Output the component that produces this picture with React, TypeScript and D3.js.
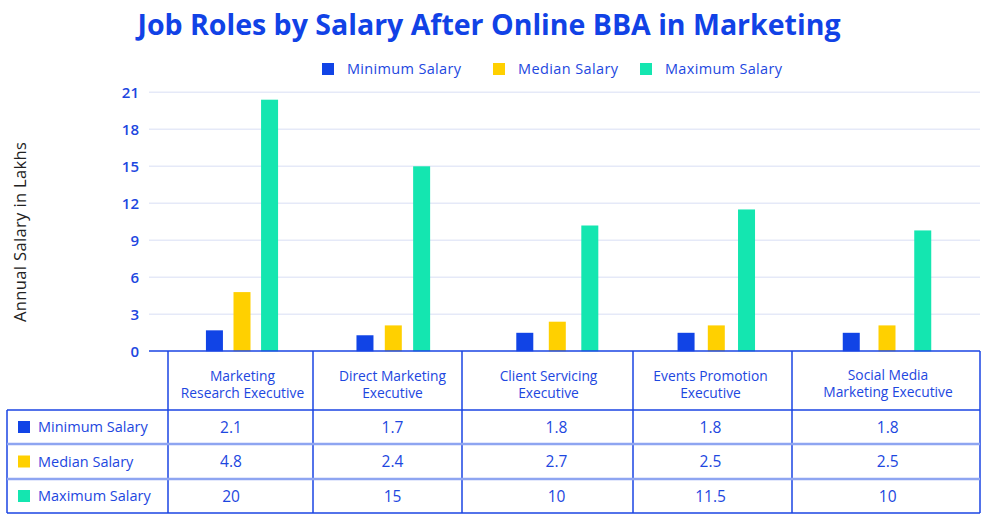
import React from "react";
import * as d3 from "d3";

// ---- data ----
const categories: string[][] = [
  ["Marketing", "Research Executive"],
  ["Direct Marketing", "Executive"],
  ["Client Servicing", "Executive"],
  ["Events Promotion", "Executive"],
  ["Social Media", "Marketing Executive"],
];
const seriesNames = ["Minimum Salary", "Median Salary", "Maximum Salary"];
const seriesColors = ["#1144e6", "#ffd000", "#14e6b0"];
// bar heights as drawn in the picture
const minBars = [1.7, 1.3, 1.5, 1.5, 1.5];
const medianBars = [4.8, 2.1, 2.4, 2.1, 2.1];
const maxBars = [20.4, 15, 10.2, 11.5, 9.8];
// values printed in the data table
const minLabels = ["2.1", "1.7", "1.8", "1.8", "1.8"];
const medianLabels = ["4.8", "2.4", "2.7", "2.5", "2.5"];
const maxLabels = ["20", "15", "10", "11.5", "10"];
const yTicks = [0, 3, 6, 9, 12, 15, 18, 21];

const W = 1000;
const H = 532;
const FONT = "'Open Sans', 'DejaVu Sans', sans-serif";
const BLUE = "#1a45e3";
const TEXT = "#1d47e0";

export default function App() {
  const barSeries = [minBars, medianBars, maxBars];
  const labelSeries = [minLabels, medianLabels, maxLabels];

  // layout
  const plotLeft = 149;
  const plotRight = 980;
  const tableLeft = 7;
  const colEdges = [168, 313, 462, 633, 792, 980];
  const rowEdges = [351, 410, 444, 479, 513];
  const barShift = [1.5, 5.8, 9.8, 3.8, 1];
  const valueShift = [-9.5, 5, 9, -2, 1.7];
  const headShift = [2, 5, 1, -2, 2];

  const y = d3.scaleLinear().domain([0, 21]).range([351.3, 92.3]);

  const colScale = (i: number) => [colEdges[i], colEdges[i + 1]];
  const barW = 17;

  return (
    <svg
      width={W}
      height={H}
      viewBox={`0 0 ${W} ${H}`}
      style={{ position: "absolute", left: 0, top: 0, background: "#fff" }}
      fontFamily={FONT}
    >
      {/* title */}
      <text
        x={489}
        y={35}
        textAnchor="middle"
        fontSize={28}
        fontWeight={700}
        fill="#1142e6"
        textLength={703}
        lengthAdjust="spacingAndGlyphs"
      >
        Job Roles by Salary After Online BBA in Marketing
      </text>

      {/* legend */}
      {seriesNames.map((s, i) => {
        const xs = [322, 493, 640][i];
        const tl = [114, 100, 117][i];
        return (
          <g key={s}>
            <rect x={xs} y={63} width={12} height={12} fill={seriesColors[i]} />
            <text
              x={xs + 25}
              y={73.5}
              fontSize={14.5}
              fontWeight={500}
              fill={TEXT}
              textLength={tl}
              lengthAdjust="spacing"
            >
              {s}
            </text>
          </g>
        );
      })}

      {/* gridlines */}
      {yTicks.map((t) => (
        <g key={t}>
          {t > 0 && (
            <line
              x1={plotLeft}
              x2={plotRight}
              y1={y(t)}
              y2={y(t)}
              stroke="#e5e9f8"
              strokeWidth={1.5}
            />
          )}
          <text
            x={139}
            y={y(t) + 5.5}
            textAnchor="end"
            fontSize={15}
            fontWeight={600}
            fill={TEXT}
          >
            {t}
          </text>
        </g>
      ))}

      {/* y axis title */}
      <text
        transform="translate(26,232) rotate(-90)"
        textAnchor="middle"
        fontSize={16.5}
        fill="#222"
        textLength={180}
        lengthAdjust="spacing"
      >
        Annual Salary in Lakhs
      </text>

      {/* bars */}
      {categories.map((c, ci) => {
        const [x0, x1] = colScale(ci);
        const inner = d3
          .scalePoint<string>()
          .domain(seriesNames)
          .range([x0 + barShift[ci], x1 + barShift[ci]])
          .padding(1.63);
        return (
          <g key={ci}>
            {seriesNames.map((s, si) => {
              const v = barSeries[si][ci];
              return (
                <rect
                  key={s}
                  x={(inner(s) as number) - barW / 2}
                  y={y(v)}
                  width={barW}
                  height={y(0) - y(v)}
                  fill={seriesColors[si]}
                />
              );
            })}
          </g>
        );
      })}

      {/* axis / table top line */}
      <line x1={plotLeft} x2={plotRight} y1={351} y2={351} stroke={BLUE} strokeWidth={1.5} />

      {/* table grid */}
      {colEdges.map((x, i) => (
        <line key={"v" + i} x1={x} x2={x} y1={351} y2={rowEdges[4]} stroke={BLUE} strokeWidth={1.5} />
      ))}
      <line x1={tableLeft} x2={tableLeft} y1={rowEdges[1]} y2={rowEdges[4]} stroke={BLUE} strokeWidth={1.5} />
      <line x1={tableLeft} x2={plotRight} y1={rowEdges[1]} y2={rowEdges[1]} stroke={BLUE} strokeWidth={1.5} />
      <line x1={tableLeft} x2={plotRight} y1={rowEdges[2]} y2={rowEdges[2]} stroke="#8ea5f1" strokeWidth={2.5} />
      <line x1={tableLeft} x2={plotRight} y1={rowEdges[3]} y2={rowEdges[3]} stroke="#8ea5f1" strokeWidth={2.5} />
      <line x1={tableLeft} x2={plotRight} y1={rowEdges[4]} y2={rowEdges[4]} stroke={BLUE} strokeWidth={1.5} />

      {/* header texts */}
      {categories.map((c, ci) => {
        const [x0, x1] = colScale(ci);
        const cx = (x0 + x1) / 2 + headShift[ci];
        const top = ci === 4 ? 379.5 : 381;
        return (
          <g key={ci}>
            {c.map((line, li) => (
              <text
                key={li}
                x={cx}
                y={top + li * 17}
                textAnchor="middle"
                fontSize={13.8}
                fontWeight={500}
                fill={TEXT}
              >
                {line}
              </text>
            ))}
          </g>
        );
      })}

      {/* data rows */}
      {seriesNames.map((s, si) => {
        const r0 = rowEdges[si + 1];
        const r1 = rowEdges[si + 2];
        const cy = (r0 + r1) / 2;
        return (
          <g key={s}>
            <rect x={18} y={cy - 6} width={12} height={12} fill={seriesColors[si]} />
            <text x={38} y={cy + 5} fontSize={14.5} fontWeight={500} fill={TEXT}>
              {s}
            </text>
            {labelSeries[si].map((v, ci) => {
              const [x0, x1] = colScale(ci);
              return (
                <text
                  key={ci}
                  x={(x0 + x1) / 2 + valueShift[ci]}
                  y={cy + 5.5}
                  textAnchor="middle"
                  fontSize={15.5}
                  fontWeight={500}
                  fill={TEXT}
                >
                  {v}
                </text>
              );
            })}
          </g>
        );
      })}
    </svg>
  );
}
